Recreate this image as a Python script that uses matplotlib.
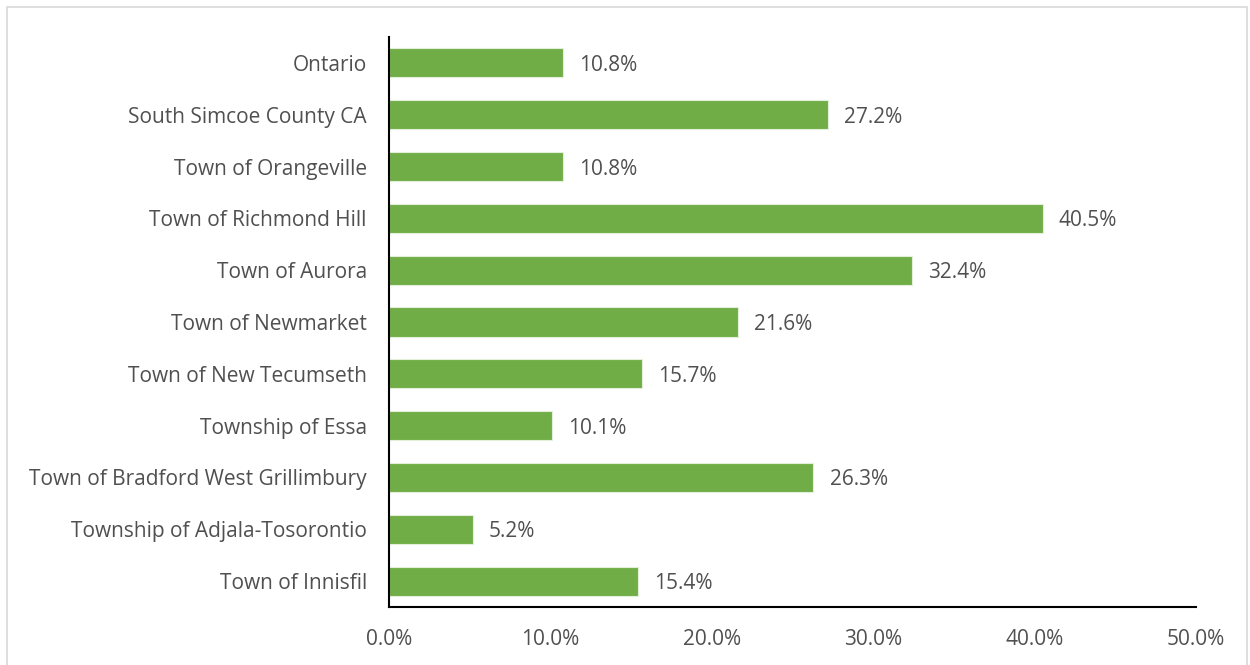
import matplotlib
matplotlib.use("Agg")
import matplotlib.pyplot as plt
from matplotlib.patches import Rectangle
from matplotlib.ticker import FuncFormatter

# categories top to bottom as in the chart
places = ["Ontario", "South Simcoe County CA", "Town of Orangeville",
          "Town of Richmond Hill", "Town of Aurora", "Town of Newmarket",
          "Town of New Tecumseth", "Township of Essa",
          "Town of Bradford West Grillimbury", "Township of Adjala-Tosorontio",
          "Town of Innisfil"]
values = [10.8, 27.2, 10.8, 40.5, 32.4, 21.6, 15.7, 10.1, 26.3, 5.2, 15.4]
xticks = [0, 10, 20, 30, 40, 50]

text_col = "#505050"
fs = 15
plt.rcParams["font.family"] = ["Open Sans", "DejaVu Sans"]

fig = plt.figure(figsize=(12.5, 6.65), dpi=100)
ax = fig.add_axes([389 / 1250, 1 - 607 / 665, (1196 - 389) / 1250, (607 - 37) / 665])

# light gray chart-area border
fig.patches.append(Rectangle((7 / 1250, -0.01), 1240 / 1250, 1 - 7 / 665 + 0.01,
                             transform=fig.transFigure, fill=False,
                             edgecolor="#d9d9d9", linewidth=1.2))

ypos = list(range(len(places)))[::-1]
ax.barh(ypos, values, height=0.56, color="#70AD47", edgecolor="#e2efd9", linewidth=0.8)

for y, v in zip(ypos, values):
    ax.text(v + 1.0, y, f"{v:.1f}%", va="center_baseline", ha="left",
            fontsize=fs, color=text_col)

ax.set_yticks(ypos)
ax.set_yticklabels(places, fontsize=fs, color=text_col)
ax.set_xticks(xticks)
ax.xaxis.set_major_formatter(FuncFormatter(lambda x, p: f"{x:.1f}%"))
ax.tick_params(axis="x", labelsize=fs, colors=text_col, length=0, pad=16)
ax.tick_params(axis="y", length=0, pad=16)
ax.set_xlim(0, 50)
ax.set_ylim(-0.5, len(places) - 0.5)

for s in ["top", "right"]:
    ax.spines[s].set_visible(False)
ax.spines["left"].set_linewidth(1.5)
ax.spines["bottom"].set_linewidth(1.5)
ax.spines["left"].set_color("black")
ax.spines["bottom"].set_color("black")

fig.savefig("out.png", dpi=100)
